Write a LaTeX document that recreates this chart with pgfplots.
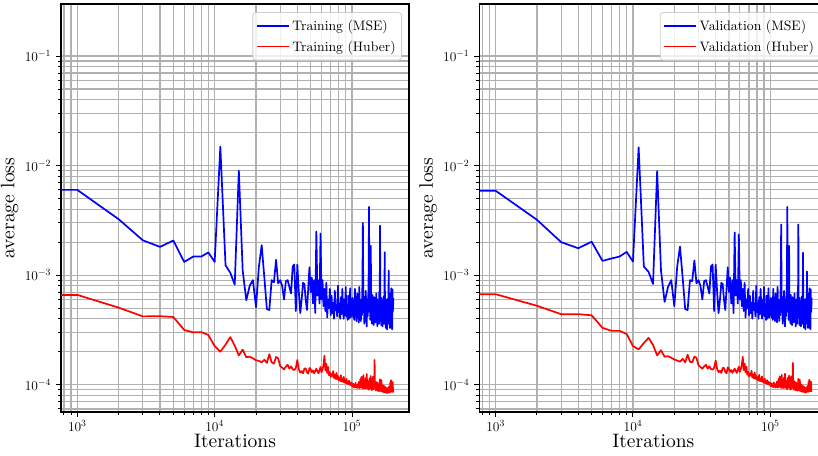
\RequirePackage{fix-cm}
\documentclass[border=0pt]{standalone}
\usepackage{fontspec}
\setmainfont{lmroman10-regular.otf}
\usepackage{pgfplots}
\usepackage{pgfplotstable}
\pgfplotsset{compat=1.18}
\definecolor{gridc}{RGB}{176,176,176}
\definecolor{legc}{RGB}{204,204,204}

\pgfplotstableread{
it tm th vm vh
700 6.0e-3 6.6e-4 5.9e-3 6.7e-4
1000 6.0e-3 6.6e-4 5.9e-3 6.7e-4
2000 3.24e-3 5.05e-4 3.2e-3 5.25e-4
3000 2.08e-3 4.2e-4 2.0e-3 4.4e-4
4000 1.81e-3 4.22e-4 1.76e-3 4.4e-4
5000 2.07e-3 4.15e-4 2.02e-3 4.3e-4
6000 1.32e-3 3.16e-4 1.35e-3 3.3e-4
7000 1.48e-3 3.0e-4 1.42e-3 3.1e-4
8000 1.48e-3 3.02e-4 1.48e-3 3.1e-4
9000 1.61e-3 2.84e-4 1.63e-3 2.9e-4
10000 1.32e-3 2.25e-4 1.33e-3 2.25e-4
11000 1.49e-2 2.0e-4 1.47e-2 2.1e-4
12000 1.23e-3 2.32e-4 1.2e-3 2.4e-4
13000 1.05e-3 2.72e-4 1.07e-3 2.68e-4
14000 8.2e-4 2.27e-4 8.3e-4 2.3e-4
15000 9.0e-3 1.85e-4 8.9e-3 1.85e-4
16000 1.1e-3 2.09e-4 1.1e-3 2.06e-4
17000 5.9e-4 1.78e-4 5.7e-4 1.8e-4
18000 8.0e-4 1.80e-4 7.8e-4 1.82e-4
19000 9.0e-4 1.74e-4 9.0e-4 1.76e-4
20000 5.1e-4 1.67e-4 5.2e-4 1.7e-4
21000 1.2e-3 1.65e-4 1.2e-3 1.66e-4
22000 1.88e-3 1.60e-4 1.82e-3 1.62e-4
23000 9.5e-4 1.69e-4 9.5e-4 1.72e-4
24000 4.9e-4 1.58e-4 4.9e-4 1.6e-4
25000 4.8e-4 1.90e-4 4.8e-4 1.88e-4
26000 9.0e-4 1.60e-4 9.0e-4 1.62e-4
27000 8.6e-4 1.56e-4 8.8e-4 1.6e-4
28000 1.38e-3 1.79e-4 1.36e-3 1.8e-4
29000 8.4e-4 1.74e-4 8.4e-4 1.76e-4
30000 9.0e-4 1.48e-4 9.0e-4 1.5e-4
31000 8.0e-4 1.43e-4 8.0e-4 1.45e-4
32000 6.0e-4 1.38e-4 6.0e-4 1.4e-4
33000 8.8e-4 1.46e-4 8.8e-4 1.47e-4
34000 9.0e-4 1.52e-4 9.0e-4 1.52e-4
35000 7.8e-4 1.40e-4 7.8e-4 1.4e-4
36000 6.8e-4 1.47e-4 6.8e-4 1.47e-4
37000 1.2e-3 1.38e-4 1.2e-3 1.39e-4
38000 1.25e-3 1.36e-4 1.25e-3 1.37e-4
39000 4.7e-4 1.42e-4 4.7e-4 1.43e-4
40000 1.25e-3 1.68e-4 1.25e-3 1.66e-4
41000 7.0e-4 1.38e-4 7.0e-4 1.39e-4
42000 4.5e-4 1.29e-4 4.5e-4 1.3e-4
43000 6.0e-4 1.33e-4 6.0e-4 1.34e-4
44000 8.5e-4 1.27e-4 8.5e-4 1.28e-4
45000 8.3e-4 1.40e-4 8.3e-4 1.42e-4
46000 6.0e-4 1.41e-4 6.0e-4 1.42e-4
47000 4.8e-4 1.30e-4 4.8e-4 1.31e-4
48000 7.5e-4 1.26e-4 7.5e-4 1.27e-4
49000 1.18e-3 1.42e-4 1.18e-3 1.44e-4
50000 7.0e-4 1.38e-4 7.0e-4 1.39e-4
51000 9.5e-4 1.30e-4 9.5e-4 1.31e-4
52000 5.5e-4 1.35e-4 5.5e-4 1.36e-4
53000 9.0e-4 1.27e-4 9.0e-4 1.28e-4
54000 4.5e-4 1.33e-4 4.5e-4 1.34e-4
55000 2.5e-3 1.40e-4 2.45e-3 1.40e-4
56000 6.5e-4 1.32e-4 6.5e-4 1.33e-4
57000 9.0e-4 1.27e-4 9.0e-4 1.28e-4
58000 5.5e-4 1.36e-4 5.5e-4 1.37e-4
59000 2.4e-3 1.45e-4 2.35e-3 1.46e-4
60000 6.0e-4 1.30e-4 6.0e-4 1.31e-4
61000 9.0e-4 1.38e-4 9.0e-4 1.39e-4
62000 5.2e-4 1.50e-4 5.2e-4 1.52e-4
63000 7.5e-4 1.84e-4 7.5e-4 1.80e-4
64000 4.7e-4 1.35e-4 4.7e-4 1.36e-4
65000 8.5e-4 1.55e-4 8.5e-4 1.56e-4
66000 4.1e-4 1.28e-4 4.1e-4 1.29e-4
67000 6.0e-4 1.45e-4 6.0e-4 1.46e-4
68000 5.0e-4 1.22e-4 5.0e-4 1.23e-4
69000 7.5e-4 1.30e-4 7.5e-4 1.31e-4
70000 4.3e-4 1.18e-4 4.3e-4 1.19e-4
71000 6.5e-4 1.25e-4 6.5e-4 1.26e-4
72000 4.5e-4 1.20e-4 4.5e-4 1.21e-4
73000 5.6e-4 1.33e-4 5.6e-4 1.34e-4
74000 4.0e-4 1.15e-4 4.0e-4 1.16e-4
75000 7.2e-4 1.23e-4 7.2e-4 1.24e-4
76000 4.8e-4 1.13e-4 4.8e-4 1.14e-4
77000 5.2e-4 1.28e-4 5.2e-4 1.29e-4
78000 4.2e-4 1.12e-4 4.2e-4 1.13e-4
79000 8.0e-4 1.20e-4 8.0e-4 1.21e-4
80000 4.6e-4 1.10e-4 4.6e-4 1.11e-4
81000 5.5e-4 1.16e-4 5.5e-4 1.17e-4
82000 4.0e-4 1.08e-4 4.0e-4 1.09e-4
83000 6.3e-4 1.22e-4 6.3e-4 1.23e-4
84000 4.4e-4 1.07e-4 4.4e-4 1.08e-4
85000 7.5e-4 1.12e-4 7.5e-4 1.13e-4
86000 5.0e-4 1.06e-4 5.0e-4 1.07e-4
87000 4.0e-4 1.18e-4 4.0e-4 1.19e-4
88000 6.0e-4 1.05e-4 6.0e-4 1.06e-4
89000 4.3e-4 1.10e-4 4.3e-4 1.11e-4
90000 7.8e-4 1.03e-4 7.8e-4 1.04e-4
91000 4.2e-4 1.13e-4 4.2e-4 1.14e-4
92000 5.4e-4 1.02e-4 5.4e-4 1.03e-4
93000 3.9e-4 1.07e-4 3.9e-4 1.08e-4
94000 6.5e-4 1.01e-4 6.5e-4 1.02e-4
95000 4.0e-4 1.09e-4 4.0e-4 1.10e-4
96000 5.2e-4 1.00e-4 5.2e-4 1.01e-4
97000 7.6e-4 1.05e-4 7.6e-4 1.06e-4
98000 4.1e-4 9.9e-5 4.1e-4 1.0e-4
99000 5.8e-4 1.04e-4 5.8e-4 1.05e-4
100000 4.3e-4 9.8e-5 4.3e-4 9.9e-5
101000 6.2e-4 9.6e-5 6.2e-4 9.7e-5
102000 4.1e-4 1.02e-4 4.1e-4 1.03e-4
103000 5.0e-4 9.5e-5 5.0e-4 9.6e-5
104000 3.9e-4 1.0e-4 3.9e-4 1.01e-4
105000 7.5e-4 9.4e-5 7.5e-4 9.5e-5
106000 4.4e-4 1.04e-4 4.4e-4 1.05e-4
107000 5.6e-4 9.5e-5 5.6e-4 9.6e-5
108000 3.8e-4 9.9e-5 3.8e-4 1.0e-4
109000 6.8e-4 9.3e-5 6.8e-4 9.4e-5
110000 4.2e-4 1.01e-4 4.2e-4 1.02e-4
111000 5.3e-4 9.4e-5 5.3e-4 9.5e-5
112000 3.7e-4 1.06e-4 3.7e-4 1.07e-4
113000 7.8e-4 9.3e-5 7.8e-4 9.4e-5
114000 4.5e-4 9.8e-5 4.5e-4 9.9e-5
115000 5.8e-4 1.12e-4 5.8e-4 1.13e-4
116000 3.8e-4 9.4e-5 3.8e-4 9.5e-5
117000 6.0e-4 1.18e-4 6.0e-4 1.19e-4
118000 4.3e-4 9.6e-5 4.3e-4 9.7e-5
119000 8.0e-4 1.05e-4 8.0e-4 1.06e-4
120000 3.0e-3 9.2e-5 2.9e-3 9.3e-5
121000 4.6e-4 1.22e-4 4.6e-4 1.23e-4
122000 6.4e-4 9.5e-5 6.4e-4 9.6e-5
123000 3.6e-4 1.10e-4 3.6e-4 1.11e-4
124000 5.5e-4 9.2e-5 5.5e-4 9.3e-5
125000 4.0e-4 1.03e-4 4.0e-4 1.04e-4
126000 7.2e-4 1.15e-4 7.2e-4 1.16e-4
127000 4.4e-4 9.3e-5 4.4e-4 9.4e-5
128000 3.4e-4 1.25e-4 3.4e-4 1.26e-4
129000 6.0e-4 9.6e-5 6.0e-4 9.7e-5
130000 4.2e-4 1.08e-4 4.2e-4 1.09e-4
131000 5.4e-4 9.1e-5 5.4e-4 9.2e-5
132000 8.5e-4 1.02e-4 8.5e-4 1.03e-4
133000 4.2e-3 9.0e-5 4.2e-3 9.1e-5
134000 4.6e-4 1.14e-4 4.6e-4 1.15e-4
135000 6.2e-4 9.3e-5 6.2e-4 9.4e-5
136000 3.9e-4 1.05e-4 3.9e-4 1.06e-4
137000 1.85e-3 1.20e-4 1.85e-3 1.21e-4
138000 4.4e-4 9.2e-5 4.4e-4 9.3e-5
139000 5.6e-4 1.12e-4 5.6e-4 1.13e-4
140000 3.6e-4 8.9e-5 3.6e-4 9.0e-5
141000 6.6e-4 1.0e-4 6.6e-4 1.01e-4
142000 4.3e-4 1.18e-4 4.3e-4 1.19e-4
143000 5.2e-4 9.1e-5 5.2e-4 9.2e-5
144000 3.5e-4 1.07e-4 3.5e-4 1.08e-4
145000 6.3e-4 9.4e-5 6.3e-4 9.5e-5
146000 4.5e-4 1.68e-4 4.5e-4 1.58e-4
147000 5.5e-4 9.3e-5 5.5e-4 9.4e-5
148000 3.7e-4 1.03e-4 3.7e-4 1.04e-4
149000 4.9e-4 8.9e-5 4.9e-4 9.0e-5
150000 6.8e-4 1.06e-4 6.8e-4 1.07e-4
151000 4.0e-4 9.0e-5 4.0e-4 9.1e-5
152000 5.3e-4 9.8e-5 5.3e-4 9.9e-5
153000 3.4e-4 8.8e-5 3.4e-4 8.9e-5
154000 6.0e-4 1.04e-4 6.0e-4 1.05e-4
155000 4.1e-4 8.9e-5 4.1e-4 9.0e-5
156000 5.2e-4 9.7e-5 5.2e-4 9.8e-5
157000 3.6e-4 8.7e-5 3.6e-4 8.8e-5
158000 7.0e-4 1.01e-4 7.0e-4 1.02e-4
159000 4.2e-4 8.8e-5 4.2e-4 8.9e-5
160000 2.83e-3 1.12e-4 2.9e-3 1.13e-4
161000 4.3e-4 9.0e-5 4.3e-4 9.1e-5
162000 5.6e-4 1.08e-4 5.6e-4 1.09e-4
163000 3.5e-4 8.7e-5 3.5e-4 8.8e-5
164000 6.2e-4 1.10e-4 6.2e-4 1.11e-4
165000 3.9e-4 8.9e-5 3.9e-4 9.0e-5
166000 5.0e-4 9.6e-5 5.0e-4 9.7e-5
167000 3.4e-4 8.6e-5 3.4e-4 8.7e-5
168000 5.8e-4 9.9e-5 5.8e-4 1.0e-4
169000 4.2e-4 8.7e-5 4.2e-4 8.8e-5
170000 6.4e-4 9.4e-5 6.4e-4 9.5e-5
171000 3.6e-4 8.5e-5 3.6e-4 8.6e-5
172000 4.8e-4 9.7e-5 4.8e-4 9.8e-5
173000 1.62e-3 8.6e-5 1.6e-3 8.7e-5
174000 3.9e-4 9.2e-5 3.9e-4 9.3e-5
175000 5.4e-4 8.5e-5 5.4e-4 8.6e-5
176000 3.3e-4 9.5e-5 3.3e-4 9.6e-5
177000 6.0e-4 8.6e-5 6.0e-4 8.7e-5
178000 4.1e-4 9.1e-5 4.1e-4 9.2e-5
179000 5.1e-4 8.4e-5 5.1e-4 8.5e-5
180000 3.2e-4 8.8e-5 3.2e-4 8.9e-5
181000 4.7e-4 8.5e-5 4.7e-4 8.6e-5
182000 6.1e-4 9.3e-5 6.1e-4 9.4e-5
183000 3.6e-4 8.4e-5 3.6e-4 8.5e-5
184000 5.0e-4 8.9e-5 5.0e-4 9.0e-5
185000 1.1e-3 8.5e-5 1.08e-3 8.6e-5
186000 3.8e-4 9.6e-5 3.8e-4 9.7e-5
187000 5.5e-4 8.6e-5 5.5e-4 8.7e-5
188000 3.3e-4 9.0e-5 3.3e-4 9.1e-5
189000 6.8e-4 8.5e-5 6.8e-4 8.6e-5
190000 4.0e-4 1.05e-4 4.0e-4 1.06e-4
191000 5.2e-4 9.2e-5 5.2e-4 9.3e-5
192000 3.3e-4 1.10e-4 3.3e-4 1.11e-4
193000 7.6e-4 8.9e-5 7.6e-4 9.0e-5
194000 3.9e-4 9.3e-5 3.9e-4 9.4e-5
195000 5.0e-4 8.6e-5 5.0e-4 8.7e-5
196000 3.2e-4 1.06e-4 3.2e-4 1.07e-4
197000 7.4e-4 8.8e-5 7.4e-4 8.9e-5
198000 4.6e-4 1.05e-4 4.6e-4 1.06e-4
199000 5.0e-4 8.6e-5 5.0e-4 8.7e-5
200000 6.2e-4 8.7e-5 6.2e-4 8.8e-5
}\losses

\pgfplotsset{
  myax/.style={
    scale only axis, width=348pt, height=408pt, anchor=south west,
    xmin=761, xmax=2.6e5, ymin=5.63e-5, ymax=0.2985,
    grid=both,
    major grid style={gridc, line width=1.1pt},
    minor grid style={gridc, line width=1.1pt},
    axis line style={line width=1.1pt, black},
    tick align=outside, tick pos=left,
    major tick length=5pt, minor tick length=3pt,
    tick style={black, line width=1pt},
    tick label style={font=\fontsize{13.5}{16}\selectfont},
    yticklabel style={xshift=-1.5pt},
    label style={font=\fontsize{19.5}{23}\selectfont},
    xlabel={Iterations}, ylabel={average loss},
    xlabel style={at={(axis description cs:0.5,0)}, anchor=base, yshift=-35.4pt},
    ylabel style={at={(axis description cs:-0.112,0.5)}, anchor=south},
    legend cell align=left,
    legend image code/.code={\draw[##1,line width=1.5pt] (0pt,0pt) -- (32pt,0pt);},
    legend style={at={(0.98,0.98)}, anchor=north east, draw=legc, line width=0.8pt,
      rounded corners=3pt, fill=white, fill opacity=0.8, text opacity=1,
      font=\fontsize{13.7}{16}\selectfont,
      inner xsep=3pt, inner ysep=3pt,
      nodes={inner xsep=3pt, inner ysep=4.5pt},
      /tikz/every even column/.append style={column sep=6pt}},
  }
}

\begin{document}
\begin{tikzpicture}
\begin{loglogaxis}[myax, at={(61pt,43pt)}]
\addplot[blue, line width=1.7pt, line join=round] table[x=it,y=tm]{\losses};
\addlegendentry{Training (MSE)}
\addplot[red, line width=1.7pt, line join=round] table[x=it,y=th]{\losses};
\addlegendentry{Training (Huber)}
\end{loglogaxis}
\begin{loglogaxis}[myax, at={(479.3pt,43pt)}]
\addplot[blue, line width=1.7pt, line join=round] table[x=it,y=vm]{\losses};
\addlegendentry{Validation (MSE)}
\addplot[red, line width=1.7pt, line join=round] table[x=it,y=vh]{\losses};
\addlegendentry{Validation (Huber)}
\end{loglogaxis}
\pgfresetboundingbox
\useasboundingbox (0pt,0pt) rectangle (818pt,455pt);
\end{tikzpicture}
\end{document}
